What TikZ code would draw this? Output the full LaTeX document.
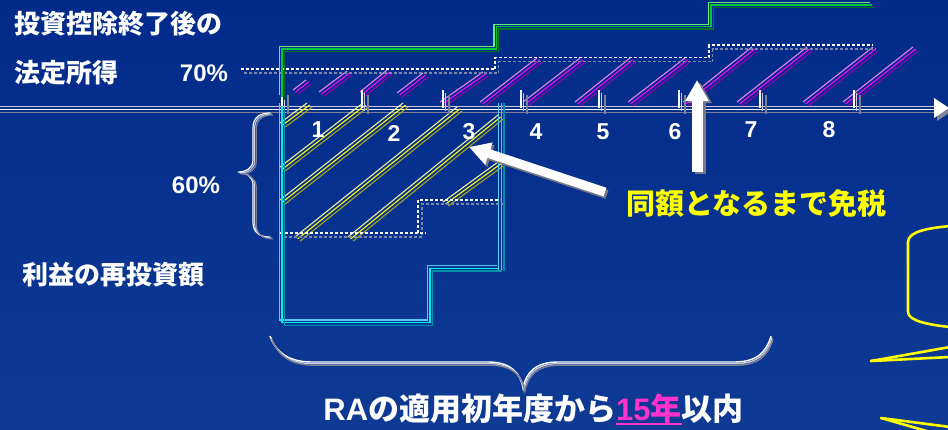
\documentclass[tikz,border=0pt]{standalone}
\usepackage{fontspec}
\setmainfont{Liberation Sans}
\newfontfamily\jp{Noto Sans CJK JP}
\usetikzlibrary{arrows.meta}
\definecolor{bgtop}{RGB}{2,42,138}
\definecolor{bgbot}{RGB}{14,58,148}
\definecolor{gA}{RGB}{100,235,120}
\definecolor{gB}{RGB}{0,200,60}
\definecolor{gC}{RGB}{0,115,40}
\definecolor{cA}{RGB}{90,200,245}
\definecolor{cB}{RGB}{0,240,240}
\definecolor{cC}{RGB}{0,145,170}
\definecolor{mA}{RGB}{230,130,235}
\definecolor{mB}{RGB}{255,0,255}
\definecolor{mC}{RGB}{150,0,170}
\definecolor{yA}{RGB}{240,240,150}
\definecolor{yB}{RGB}{255,255,0}
\definecolor{yC}{RGB}{165,165,30}
\definecolor{dgray}{RGB}{125,135,170}
\definecolor{lgray}{RGB}{200,205,225}
\definecolor{mgray}{RGB}{125,130,150}
\definecolor{shad}{RGB}{120,120,135}
\definecolor{mag}{RGB}{255,51,204}
\definecolor{ylw}{RGB}{255,255,0}
\newcommand\myul[1]{\setbox0\hbox{#1}\rlap{\raisebox{-4.5pt}{\rule{\wd0}{1.8pt}}}\box0}
\tikzset{
  thin1/.style={line width=1.1pt},
  jtext/.style={text=white, inner sep=0pt, font=\jp\bfseries\fontsize{26}{30}\selectfont},
  ptext/.style={text=white, inner sep=0pt, font=\bfseries\fontsize{24}{28}\selectfont},
  num/.style={text=white, inner sep=0pt, font=\bfseries\fontsize{23}{26}\selectfont},
  dashA/.style={white, line width=1.2pt, dash pattern=on 3pt off 2pt},
  dashB/.style={dgray, line width=1.2pt, dash pattern=on 3pt off 2pt},
  bigarrow/.style={white, line width=10pt, -{Triangle[length=21pt,width=22pt]}},
  bigshadow/.style={shad, line width=10pt, -{Triangle[length=21pt,width=22pt]}},
  yshape/.style={ylw, line width=2.6pt, line cap=round, line join=round}
}
\begin{document}
\begin{tikzpicture}[x=1pt,y=-1pt]
\useasboundingbox (0,0) rectangle (948,429);
\shade[top color=bgtop,bottom color=bgbot] (0,0) rectangle (948,429);
\begin{scope}
\clip (0,0) rectangle (948,429);

% ---------- axis ----------
\coordinate (ax0) at (0,109.5);
\coordinate (ax1) at (937,109.5);
\draw[lgray, line width=1.2pt] ([shift={(0,-3)}]ax0) -- ([shift={(0,-3)}]ax1);
\draw[white, line width=1.1pt] (ax0) -- (ax1);
\draw[mgray, line width=1.4pt] ([shift={(0,3)}]ax0) -- ([shift={(0,3)}]ax1);
\fill[mgray] (937,101) -- (952,111) -- (937,121) -- cycle;
\fill[white] (934,98) -- (949,108) -- (934,118) -- cycle;

% ---------- magenta hatching ----------
\foreach \xa/\ya/\xb/\yb in {293/90/306/80, 319/92/347/71, 360/92/387/70, 397/93/423/73,
  440/102/483/72, 480/102/537/58, 523/102/580/58, 575/102/630/58, 628/102/685/58,
  683/102/752/47, 737/102/807/47, 803/102/873/47, 843/102/913/47}{
  \draw[mA, thin1] (\xa,\ya) -- (\xb,\yb);
  \draw[mB, thin1, shift={(2.6,2)}] (\xa,\ya) -- (\xb,\yb);
  \draw[mC, thin1, shift={(5.2,4)}] (\xa,\ya) -- (\xb,\yb);
}

% ---------- yellow hatching ----------
\foreach \xa/\ya/\xb/\yb in {280/123/307/103, 280/167/363/103, 280/200/403/103,
  295/237/457/107, 348/237/498/115, 443/202/498/162}{
  \draw[yA, thin1] (\xa,\ya) -- (\xb,\yb);
  \draw[yB, thin1, shift={(2.6,2)}] (\xa,\ya) -- (\xb,\yb);
  \draw[yC, thin1, shift={(5.2,4)}] (\xa,\ya) -- (\xb,\yb);
}

% ---------- ticks ----------
\foreach \t in {282,362,443,521,599,679,760,854}{
  \draw[white, line width=1.1pt] (\t,90) -- (\t,108);
  \draw[lgray, line width=1.1pt] (\t+2.7,93) -- (\t+2.7,111);
  \draw[mgray, line width=1.1pt] (\t+6,95) -- (\t+6,114);
}

% ---------- dashed levels ----------
\draw[dashB, shift={(3.7,4)}] (240.5,69) -- (495,69) -- (495,57.5) -- (709,57.5) -- (709,45) -- (872,45);
\draw[dashA] (240.5,69) -- (495,69) -- (495,57.5) -- (709,57.5) -- (709,45) -- (872,45);
\draw[dashB, shift={(4,4)}] (280,233) -- (418,233) -- (418,200) -- (500,200);
\draw[dashA] (280,233) -- (426,233);
\draw[dashA] (418,233) -- (418,200) -- (500,200);

% ---------- green step line ----------
\foreach \c/\s in {gA/0, gB/2.4, gC/4.8}{
  \draw[\c, line width=1.3pt, shift={(\s,\s)}] (279.5,95) -- (279.5,46.7) -- (494,46.7) -- (494,24.3)
    -- (708.5,24.3) -- (708.5,2.7) -- (870,2.7);
}

% ---------- cyan box ----------
\foreach \c/\s in {cA/0, cB/2.6, cC/5.2}{
  \draw[\c, line width=1.3pt, shift={(\s,\s)}] (279.3,103) -- (279.3,320) -- (427.3,320) -- (427.3,265.7)
    -- (496.5,265.7);
  \draw[\c, line width=1.3pt, shift={(\s,0)}] (498.7,103) -- (498.7,271);
}

% ---------- braces ----------
\foreach \c/\s in {white/0, lgray/1.6, mgray/3.2}{
  \draw[\c, line width=1.2pt, shift={(\s,\s*0.6)}] (270,113) .. controls (259,113) and (253,118) .. (253,128)
    -- (253,160) .. controls (253,168) and (246,172) .. (238,172)
    .. controls (246,172) and (253,177) .. (253,185) -- (253,222)
    .. controls (253,232) and (259,237) .. (270,237);
  \draw[\c, line width=1.4pt, shift={(\s*0.6,\s)}] (270,336) .. controls (276,353) and (290,362) .. (312,362)
    -- (488,362) .. controls (510,362) and (520,372) .. (523,388)
    .. controls (526,372) and (536,362) .. (558,362) -- (734,362)
    .. controls (756,362) and (766,353) .. (771,336);
}

% ---------- texts ----------
\node[jtext] (t1) at (118,24) {投資控除終了後の};
\node[jtext] (t2) at (66,72.5) {法定所得};
\node[ptext] (p70) at (204,73.5) {70\%};
\node[ptext] (p60) at (196,185) {60\%};
\node[jtext] (t3) at (113,275) {利益の再投資額};
\node[num] (n1) at (318,130) {1};
\node[num] (n2) at (394,133) {2};
\node[num] (n3) at (469,132) {3};
\node[num] (n4) at (536,132) {4};
\node[num] (n5) at (603,132) {5};
\node[num] (n6) at (675,132) {6};
\node[num] (n7) at (751,130) {7};
\node[num] (n8) at (829,130) {8};
\node[jtext, text=ylw, font=\jp\bfseries\fontsize{29}{32}\selectfont] (tax) at (756.5,203) {同額となるまで免税};
\node[text=white, inner sep=0pt, font=\bfseries\fontsize{31}{34}\selectfont] (bot) at (533.5,409.5)
  {RA{\jp の適用初年度から}{\color{mag}\myul{15{\jp 年}}}{\jp 以内}};

% ---------- white arrows ----------
\coordinate (a1s) at (605,192);
\coordinate (a1e) at (469,147);
\coordinate (a2s) at (697,172);
\coordinate (a2e) at (697,80);
\draw[bigshadow, line width=9pt] ([shift={(2,2.5)}]a1s) -- ([shift={(2,2.5)}]a1e);
\draw[bigarrow, line width=9pt] (a1s) -- (a1e);
\draw[bigshadow, line width=11pt] ([shift={(3,2)}]a2s) -- ([shift={(3,2)}]a2e);
\draw[bigarrow, line width=11pt] (a2s) -- (a2e);

% ---------- yellow shapes at right ----------
\draw[yshape] (950,226) .. controls (930,228) and (908,231) .. (908,242) -- (908,312)
  .. controls (908,321) and (930,325) .. (950,327);
\draw[yshape] (871,361) -- (950,347);
\draw[yshape] (871,361) -- (950,357);
\draw[yshape] (881,418) -- (930,432);
\draw[yshape] (881,418) -- (950,427);
\end{scope}
\end{tikzpicture}
\end{document}
